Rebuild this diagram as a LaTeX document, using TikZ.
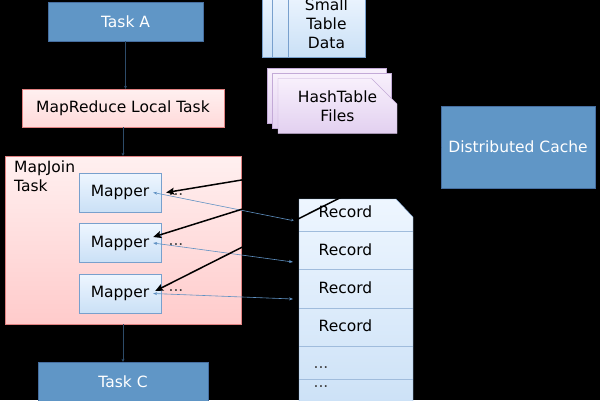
\documentclass[tikz,border=0pt]{standalone}
\usepackage{fontspec}
\setmainfont{DejaVu Sans}
\usepackage{tikz}
\usetikzlibrary{arrows.meta,positioning,shapes.misc}
\definecolor{taskblue}{RGB}{96,150,198}
\definecolor{taskedge}{RGB}{70,110,160}
\definecolor{pinktop}{RGB}{255,240,240}
\definecolor{pinkbot}{RGB}{255,203,203}
\definecolor{pinkedge}{RGB}{225,130,130}
\definecolor{bluetop}{RGB}{238,246,255}
\definecolor{bluebot}{RGB}{202,224,246}
\definecolor{blueedge}{RGB}{120,160,205}
\definecolor{lilactop}{RGB}{248,240,252}
\definecolor{lilacbot}{RGB}{226,208,240}
\definecolor{lilacedge}{RGB}{195,170,215}
\definecolor{linkblue}{RGB}{95,145,195}
\definecolor{stemblue}{RGB}{45,75,105}

\begin{document}
\begin{tikzpicture}[
    x=1pt, y=-1pt,
    every node/.style={font=\fontsize{15.5}{19}\selectfont, align=center, inner sep=0pt},
    task/.style={rectangle, draw=taskedge, fill=taskblue, text=white, minimum width=155pt, minimum height=39pt},
    localbox/.style={rectangle, draw=pinkedge, top color=pinktop, bottom color=pinkbot!60!pinktop, minimum width=202pt, minimum height=38pt},
    joinbox/.style={rectangle, draw=pinkedge, top color=pinktop, bottom color=pinkbot, minimum width=236pt, minimum height=168pt},
    mapper/.style={rectangle, draw=blueedge, top color=bluetop, bottom color=bluebot, minimum width=82pt, minimum height=39pt},
    tablecard/.style={rectangle, draw=blueedge, top color=bluetop, bottom color=bluebot, minimum width=77pt, minimum height=67pt},
    hashcard/.style={chamfered rectangle, chamfered rectangle corners=north east, chamfered rectangle xsep=17pt, chamfered rectangle ysep=10pt, draw=lilacedge, top color=lilactop, bottom color=lilacbot, minimum width=119pt, minimum height=55pt},
    recordbox/.style={draw=blueedge, top color=bluetop, bottom color=bluebot},
    recline/.style={blueedge!70, line width=0.8pt},
    dots/.style={text=black!75},
    stem/.style={-{Stealth[length=3pt,width=3pt]}, stemblue, line width=0.7pt},
    link/.style={{Stealth[length=4pt,width=3pt]}-{Stealth[length=4pt,width=3pt]}, linkblue, line width=0.6pt},
    fetch/.style={-{Stealth[length=8pt,width=7pt,inset=1.5pt]}, black, line width=1.5pt}
]
\useasboundingbox (0,0) rectangle (600,400);
\fill[black] (0,0) rectangle (600,400);
\clip (0,0) rectangle (600,400);

% Task chain
\node[task] (taskA) at (125.5,21.5) {Task A};
\node[localbox] (local) at (123,108) {MapReduce Local Task};
\node[joinbox] (mapjoin) at (123,240) {};
\node[anchor=north west, align=left] (joinlabel) at (14,161) {MapJoin\\Task};
\node[task, minimum width=170pt] (taskC) at (123,381.5) {Task C};

% Mappers
\node[mapper] (m1) at (120,192.5) {Mapper};
\node[mapper] (m2) at (120,243) {Mapper};
\node[mapper] (m3) at (120,293.5) {Mapper};
\node[dots] (d1) at (176,195) {...};
\node[dots] (d2) at (176,245) {...};
\node[dots] (d3) at (176,291) {...};

% Small table data and hash table files
\node[tablecard] (tbl3) at (300.5,23.5) {};
\node[tablecard] (tbl2) at (310.5,23.5) {};
\node[tablecard] (tbl1) at (326.5,23.5) {Small\\Table\\Data};
\node[hashcard] (hash3) at (326.5,96) {};
\node[hashcard] (hash2) at (332,101) {};
\node[hashcard] (hash1) at (337.5,106) {HashTable\\Files};

% Distributed cache
\node[task, minimum width=154pt, minimum height=82pt] (dcache) at (518,147) {Distributed Cache};

% Records
\draw[recordbox] (299,199) -- (396,199) -- (413,217) -- (413,420) -- (299,420) -- cycle;
\foreach \y in {231,269,308,346,379}
    \draw[recline] (299,\y) -- (413,\y);
\node (rec1) at (345.5,212) {Record};
\node (rec2) at (345.5,250) {Record};
\node (rec3) at (345.5,288) {Record};
\node (rec4) at (345.5,326) {Record};
\node[dots] (more1) at (321,368) {...};
\node[dots] (more2) at (321,387) {...};
\coordinate (r1) at (295,221);
\coordinate (r2) at (293,262);
\coordinate (r3) at (293,299);

% Task flow
\draw[stem] (taskA.south) -- (taskA.south |- local.north);
\draw[stem] (local.south) -- (mapjoin.north);
\draw[stem] (mapjoin.south) -- (taskC.north);

% Mapper to record links
\draw[link] ([xshift=-8pt]m1.east) -- (r1);
\draw[link] ([xshift=-8pt]m2.east) -- (r2);
\draw[link] ([xshift=-8pt]m3.east) -- (r3);

% Cache to mappers
\draw[fetch] (dcache.west) -- ([xshift=5pt]m1.east);
\draw[fetch] (dcache.west) -- ([xshift=-8pt,yshift=6pt]m2.east);
\draw[fetch] (dcache.west) -- ([xshift=-6pt,yshift=2.5pt]m3.east);

\end{tikzpicture}
\end{document}
